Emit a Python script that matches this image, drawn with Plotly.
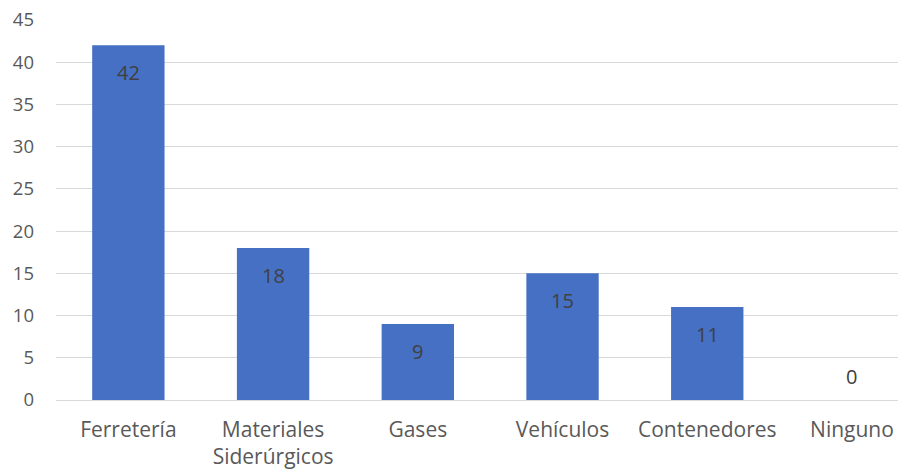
import plotly.graph_objects as go

categories = ["Ferretería", "Materiales<br>Siderúrgicos", "Gases", "Vehículos", "Contenedores", "Ninguno"]
values = [42, 18, 9, 15, 11, 0]
y_ticks = [0, 5, 10, 15, 20, 25, 30, 35, 40, 45]

FONT = "Open Sans"
TXT = "#595959"
LBL = "#404040"

fig = go.Figure()
fig.add_trace(go.Bar(
    x=list(range(len(categories))),
    y=values,
    marker=dict(color="#4570C3", line=dict(width=0)),
    width=0.5,
    hoverinfo="skip",
))

annotations = []
for i, v in enumerate(values):
    if v > 0:
        annotations.append(dict(x=i, y=v, xref="x", yref="y", text=str(v), showarrow=False,
                                yanchor="middle", yshift=-27, font=dict(family=FONT, size=20, color=LBL)))
    else:
        annotations.append(dict(x=i, y=v, xref="x", yref="y", text=str(v), showarrow=False,
                                yanchor="middle", yshift=24, font=dict(family=FONT, size=20, color=LBL)))

fig.update_layout(
    width=898, height=475,
    margin=dict(l=56, r=0, t=20, b=75),
    paper_bgcolor="white", plot_bgcolor="white",
    showlegend=False,
    annotations=annotations,
    xaxis=dict(
        tickmode="array", tickvals=list(range(len(categories))), ticktext=categories,
        range=[-0.5, 5.318], showgrid=False, zeroline=False, showline=False,
        ticks="", tickfont=dict(family=FONT, size=21, color=TXT), ticklabelstandoff=15,
        fixedrange=True,
    ),
    yaxis=dict(
        range=[0, 45], tickvals=y_ticks, showgrid=True, gridcolor="#D9D9D9", gridwidth=1.3,
        zeroline=True, zerolinecolor="#D9D9D9", zerolinewidth=1.3, showline=False,
        ticks="", tickfont=dict(family=FONT, size=18.5, color=TXT), ticklabelstandoff=21,
        fixedrange=True,
    ),
    font=dict(family=FONT, color=TXT),
)

fig.write_html("out.html")
